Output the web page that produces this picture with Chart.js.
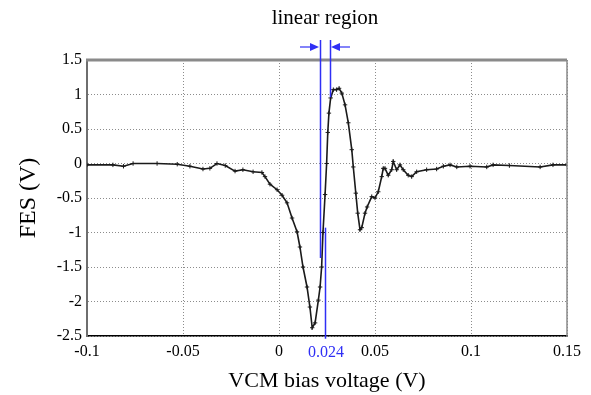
<!DOCTYPE html>
<html>
<head>
<meta charset="utf-8">
<title>FES vs VCM bias voltage</title>
<script src="https://cdn.jsdelivr.net/npm/chart.js@4.4.1/dist/chart.umd.min.js"></script>
<style>
    body { margin: 0; background: #fff; }
    #wrap { width: 591px; height: 395px; }
</style>
</head>
<body>
<div id="wrap"><canvas id="fesChart" width="591" height="395"></canvas></div>
<script>
// VCM bias voltage (V) and FES (V)
const biasVoltage = [
    -0.1, -0.0865, -0.081, -0.076, -0.0635, -0.053, -0.0464, -0.0396, -0.036, -0.0323,
    -0.028, -0.0229, -0.0188, -0.0135, -0.0089, -0.0073, -0.0047, -0.001, 0.0016, 0.0042,
    0.0068, 0.0094, 0.0109, 0.0125, 0.0146, 0.0161, 0.0173, 0.0188, 0.0205, 0.0214,
    0.0222, 0.0229, 0.024, 0.0248, 0.0254, 0.026, 0.0269, 0.0283, 0.03, 0.0313,
    0.0327, 0.0344, 0.0361, 0.0379, 0.0387, 0.04, 0.041, 0.0422, 0.0431, 0.0448,
    0.0459, 0.0483, 0.05, 0.0517, 0.0535, 0.0543, 0.0552, 0.0569, 0.0587, 0.0595,
    0.0613, 0.063, 0.0647, 0.0673, 0.0691, 0.0717, 0.0769, 0.0821, 0.0856, 0.0891,
    0.0926, 0.0995, 0.1082, 0.1115, 0.12, 0.136, 0.1427, 0.15
];
const fesValues = [
    -0.02, -0.02, -0.04, 0.0, 0.0, -0.01, -0.04, -0.08, -0.07, 0.0,
    -0.03, -0.11, -0.09, -0.12, -0.13, -0.19, -0.30, -0.38, -0.46, -0.57,
    -0.79, -0.99, -1.21, -1.5, -1.79, -2.08, -2.38, -2.31, -1.98, -1.79,
    -1.5, -1.0, -0.45, 0.0, 0.45, 0.73, 0.95, 1.07, 1.07, 1.09,
    1.02, 0.85, 0.59, 0.2, -0.05, -0.43, -0.72, -0.96, -0.93, -0.72,
    -0.63, -0.48, -0.5, -0.41, -0.19, -0.07, -0.07, -0.17, -0.09, 0.03,
    -0.09, -0.02, -0.09, -0.17, -0.19, -0.12, -0.09, -0.08, -0.04, -0.02,
    -0.05, -0.04, -0.05, -0.02, -0.03, -0.05, -0.02, -0.02
];

const xTicks = [-0.1, -0.05, 0, 0.05, 0.1, 0.15];
const yTicks = [-2.5, -2, -1.5, -1, -0.5, 0, 0.5, 1, 1.5];

// linear region markers: [x, yFrom, yTo]
const regionLeft = [0.0211, 1.79, -1.37];
const regionRight = [0.0266, 1.79, 0.96];
const zeroCross = [0.024, -0.93, -2.54];
const zeroCrossLabel = "0.024";
const regionLabel = "linear region";

const serif = "'Liberation Serif', 'DejaVu Serif', serif";
const blue = "#2f2ff5";

function fmt(v) {
    return String(+v.toFixed(3));
}

// draws the blue annotation and the gray frame
const annotate = {
    id: "annotate",
    afterDraw(chart) {
        const ctx = chart.ctx;
        const xs = chart.scales.x, ys = chart.scales.y;
        const area = chart.chartArea;
        ctx.save();

        // frame top / right
        ctx.strokeStyle = "#8a8a8a";
        ctx.lineWidth = 3;
        ctx.beginPath();
        ctx.moveTo(area.left - 1, area.top);
        ctx.lineTo(area.right, area.top);
        ctx.stroke();
        ctx.lineWidth = 1.5;
        ctx.beginPath();
        ctx.moveTo(area.right, area.top);
        ctx.lineTo(area.right, area.bottom);
        ctx.stroke();

        ctx.strokeStyle = blue;
        ctx.fillStyle = blue;
        ctx.lineWidth = 1.5;
        [regionLeft, regionRight, zeroCross].forEach(m => {
            const px = Math.round(xs.getPixelForValue(m[0])) + 0.5;
            ctx.beginPath();
            ctx.moveTo(px, ys.getPixelForValue(m[1]));
            ctx.lineTo(px, ys.getPixelForValue(m[2]));
            ctx.stroke();
        });

        // arrows pointing at the region
        const lx = Math.round(xs.getPixelForValue(regionLeft[0]));
        const rx = Math.round(xs.getPixelForValue(regionRight[0]));
        const ay = area.top - 13;
        function arrow(from, to) {
            const dir = Math.sign(to - from);
            ctx.lineWidth = 1.2;
            ctx.beginPath();
            ctx.moveTo(from, ay);
            ctx.lineTo(to - dir * 6, ay);
            ctx.stroke();
            ctx.beginPath();
            ctx.moveTo(to, ay);
            ctx.lineTo(to - dir * 9, ay - 4);
            ctx.lineTo(to - dir * 9, ay + 4);
            ctx.closePath();
            ctx.fill();
        }
        arrow(lx - 20, lx - 1);
        arrow(rx + 20, rx + 1);

        ctx.textAlign = "center";
        ctx.textBaseline = "middle";
        ctx.font = "16px " + serif;
        ctx.fillText(zeroCrossLabel, xs.getPixelForValue(zeroCross[0]) + 1, area.bottom + 17);

        ctx.fillStyle = "#000";
        ctx.font = "21px " + serif;
        ctx.fillText(regionLabel, (lx + rx) / 2, 18);
        ctx.restore();
    }
};

new Chart(document.getElementById("fesChart"), {
    type: "line",
    data: {
        datasets: [{
            label: "FES",
            data: biasVoltage.map((v, i) => ({ x: v, y: fesValues[i] })),
            borderColor: "#1a1a1a",
            backgroundColor: "#1a1a1a",
            borderWidth: 1.6,
            pointStyle: "cross",
            pointRadius: 2.2,
            pointBorderWidth: 1,
            tension: 0
        }]
    },
    options: {
        responsive: false,
        animation: false,
        devicePixelRatio: 1,
        layout: { padding: { left: 0, top: 60, right: 24, bottom: 0 } },
        plugins: {
            legend: { display: false },
            tooltip: { enabled: false }
        },
        scales: {
            x: {
                type: "linear",
                min: -0.1,
                max: 0.15,
                afterBuildTicks: s => { s.ticks = xTicks.map(v => ({ value: v })); },
                afterFit: s => { s.height = 59; },
                ticks: {
                    callback: fmt,
                    color: "#000",
                    padding: 6,
                    maxRotation: 0,
                    font: { family: serif, size: 16 }
                },
                grid: {
                    color: "#8c8c8c",
                    lineWidth: 1,
                    drawTicks: false
                },
                border: { color: "#000", width: 1.5, dash: [1, 2] },
                title: {
                    display: true,
                    text: "VCM bias voltage (V)",
                    color: "#000",
                    padding: { top: 0, bottom: 1 },
                    font: { family: serif, size: 22 }
                }
            },
            y: {
                min: -2.5,
                max: 1.5,
                afterBuildTicks: s => { s.ticks = yTicks.map(v => ({ value: v })); },
                afterFit: s => { s.width = 87; },
                ticks: {
                    callback: fmt,
                    color: "#000",
                    padding: 5,
                    font: { family: serif, size: 16 }
                },
                grid: {
                    color: "#8c8c8c",
                    lineWidth: 1,
                    drawTicks: false
                },
                border: { color: "#6e6e6e", width: 2, dash: [1, 2] },
                title: {
                    display: true,
                    text: "FES (V)",
                    color: "#000",
                    padding: { top: 14, bottom: 0 },
                    font: { family: serif, size: 24 }
                }
            }
        }
    },
    plugins: [annotate]
});
</script>
</body>
</html>
